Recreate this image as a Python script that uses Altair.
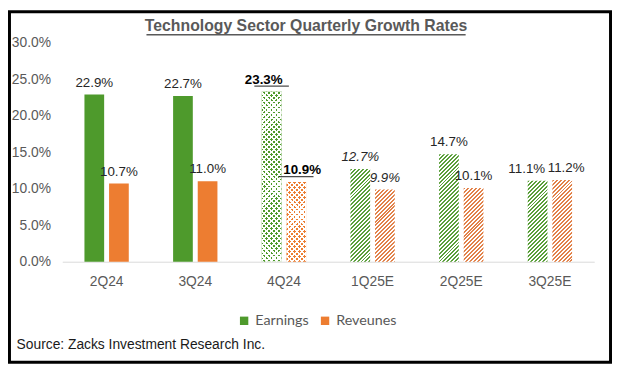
import math
import altair as alt
import pandas as pd

# ---------------- data ----------------
quarters = ["2Q24", "3Q24", "4Q24", "1Q25E", "2Q25E", "3Q25E"]
earnings = [22.9, 22.7, 23.3, 12.7, 14.7, 11.1]
revenues = [10.7, 11.0, 10.9, 9.9, 10.1, 11.2]
series_names = ["Earnings", "Reveunes"]
styles = ["solid", "solid", "dotted", "hatched", "hatched", "hatched"]
label_styles = ["normal", "normal", "bold", "italic", "normal", "normal"]
y_ticks = [0, 5, 10, 15, 20, 25, 30]
title_text = "Technology Sector Quarterly Growth Rates"
source_text = "Source: Zacks Investment Research Inc."

rows = []
for q, st, ls, e, r in zip(quarters, styles, label_styles, earnings, revenues):
    rows.append({"quarter": q, "series": "Earnings", "value": e, "style": st, "lstyle": ls})
    rows.append({"quarter": q, "series": "Reveunes", "value": r, "style": st, "lstyle": ls})
df = pd.DataFrame(rows)

# ---------------- style ----------------
GREEN = "#4e9a2c"
ORANGE = "#ed7d31"
HGREEN = "#5a9f3a"
HORANGE = "#e2824a"
GRAY = "#595959"
FONT = "Liberation Sans"
W, H, YMAX = 539, 222, 30
PAD_IN, PAD_OUT, OFF_PAD = 0.5, 0.25, 0.2
STEP = W / len(quarters)
BAND = STEP * (1 - PAD_IN)
OFF_STEP = BAND / (2 - OFF_PAD)
BAR_W = OFF_STEP * (1 - OFF_PAD)
# label nudges (pixels) for a few data labels, as in the original layout
NUDGE = {("4Q24", "Earnings"): -8, ("4Q24", "Reveunes"): 6,
         ("3Q25E", "Earnings"): -11, ("3Q25E", "Reveunes"): 4}


def stripes(w, h, diag_period, frac, c_on, c_off, direction="/"):
    # stripes at 45 degrees; diag_period is the period measured along x (px)
    n = (w + h) / diag_period
    c = (1 / h + 1 / w) / (1 / h ** 2 + 1 / w ** 2)
    a, b = c / h, c / w
    if direction == "/":
        x1, y1, x2, y2 = 0, 0, a, b
    else:
        x1, y1, x2, y2 = 0, 1, a, 1 - b
    stops = []
    i = 0
    while i < n:
        s = i / n
        m = min((i + frac) / n, 1)
        e = min((i + 1) / n, 1)
        stops += [(s, c_on), (m, c_on), (m, c_off), (e, c_off)]
        i += 1
    return alt.Gradient(
        gradient="linear", x1=x1, y1=y1, x2=x2, y2=y2,
        stops=[alt.GradientStop(offset=round(o, 6), color=col) for o, col in stops],
    )


base = alt.Chart(df).encode(
    x=alt.X(
        "quarter:N", sort=quarters, title=None,
        scale=alt.Scale(paddingInner=PAD_IN, paddingOuter=PAD_OUT),
        axis=alt.Axis(labelAngle=0, ticks=False, domainColor="#d9d9d9", domainWidth=1,
                      labelColor=GRAY, labelFont=FONT, labelFontSize=14, labelPadding=13,
                      grid=False),
    ),
    xOffset=alt.XOffset("series:N", sort=series_names,
                        scale=alt.Scale(paddingInner=OFF_PAD, paddingOuter=0)),
    y=alt.Y(
        "value:Q", title=None,
        scale=alt.Scale(domain=[0, YMAX], nice=False),
        axis=alt.Axis(values=y_ticks, labelExpr="format(datum.value, '.1f') + '%'",
                      domain=False, ticks=False, grid=False, labelColor=GRAY,
                      labelFont=FONT, labelFontSize=14, labelPadding=12),
    ),
)

layers = []
solid = base.transform_filter(alt.datum.style == "solid").mark_bar().encode(
    color=alt.Color(
        "series:N",
        scale=alt.Scale(domain=series_names, range=[GREEN, ORANGE]),
        legend=alt.Legend(
            title=None, orient="none", legendX=177, legendY=274.5, direction="horizontal",
            symbolType="square", symbolSize=72, symbolStrokeWidth=0, labelFont="Lato",
            labelFontSize=14.5, labelColor=GRAY, columnPadding=9, labelOffset=4, padding=0,
        ),
    )
)
layers.append(solid)

for q, st, e, r in zip(quarters, styles, earnings, revenues):
    for s, v in zip(series_names, [e, r]):
        if st == "solid":
            continue
        h = v / YMAX * H
        filt = (alt.datum.quarter == q) & (alt.datum.series == s)
        if st == "hatched":
            col = HGREEN if s == "Earnings" else HORANGE
            g = stripes(BAR_W, h, 4, 0.5, col, "#ffffff", "/")
            layers.append(base.transform_filter(filt).mark_bar(fill=g))
        else:
            col = GREEN if s == "Earnings" else ORANGE
            layers.append(base.transform_filter(filt).mark_bar(fill=col))
            clear = "rgba(255,255,255,0)"
            g1 = stripes(BAR_W, h, 5, 0.45, "#ffffff", clear, "/")
            g2 = stripes(BAR_W, h, 5, 0.45, "#ffffff", clear, "\\")
            layers.append(base.transform_filter(filt).mark_bar(fill=g1))
            layers.append(base.transform_filter(filt).mark_bar(fill=g2))

lab = base.transform_calculate(lbl="format(datum.value, '.1f') + '%'")
LSTYLE = {"normal": ("normal", "normal", "#262626"),
          "italic": ("normal", "italic", "#262626"),
          "bold": ("bold", "normal", "#000000")}
not_nudged = alt.datum.quarter != "__"
for (q, s) in NUDGE:
    not_nudged = not_nudged & ~((alt.datum.quarter == q) & (alt.datum.series == s))
for ls, (weight, fstyle, color) in LSTYLE.items():
    layers.append(
        lab.transform_filter((alt.datum.lstyle == ls) & not_nudged).mark_text(
            baseline="alphabetic", dy=-8, font=FONT, fontSize=13.5, fontWeight=weight,
            fontStyle=fstyle, color=color,
        ).encode(text="lbl:N")
    )
for (q, s), dx in NUDGE.items():
    ls = label_styles[quarters.index(q)]
    weight, fstyle, color = LSTYLE[ls]
    filt = (alt.datum.quarter == q) & (alt.datum.series == s)
    layers.append(
        lab.transform_filter(filt).mark_text(
            baseline="alphabetic", dy=-8, dx=dx, font=FONT, fontSize=13.5,
            fontWeight=weight, fontStyle=fstyle, color=color,
        ).encode(text="lbl:N")
    )
    if ls == "bold":
        layers.append(
            base.transform_filter(filt).mark_tick(
                color="#000000", thickness=1.3, size=35, yOffset=-5.5, xOffset=dx
            )
        )

one = alt.Chart(pd.DataFrame({"t": [title_text]}))
layers.append(one.mark_text(font=FONT, fontSize=16, fontWeight="bold", color=GRAY,
                            baseline="alphabetic", align="center").encode(
    text="t:N", x=alt.value(247), y=alt.value(-11.6)))
layers.append(one.mark_rule(color=GRAY, strokeWidth=1.5).encode(
    x=alt.value(85.3), x2=alt.value(408.7), y=alt.value(-8)))
src = alt.Chart(pd.DataFrame({"t": [source_text]}))
layers.append(src.mark_text(font=FONT, fontSize=14, color="#1a1a1a", align="left",
                            baseline="middle").encode(
    text="t:N", x=alt.value(-46.3), y=alt.value(306.5)))
layers.append(one.mark_rect(fillOpacity=0, stroke="#000000", strokeWidth=3).encode(
    x=alt.value(-53.5), x2=alt.value(555.5), y=alt.value(-31.2), y2=alt.value(323.8)))

chart = alt.layer(*layers).properties(
    width=W, height=H,
    autosize=alt.AutoSizeParams(type="none"),
    padding={"left": 55, "top": 32.7, "right": 18, "bottom": 103.3},
).configure_view(stroke=None)

chart.save("out.html", embed_options={"renderer": "svg", "actions": False})
